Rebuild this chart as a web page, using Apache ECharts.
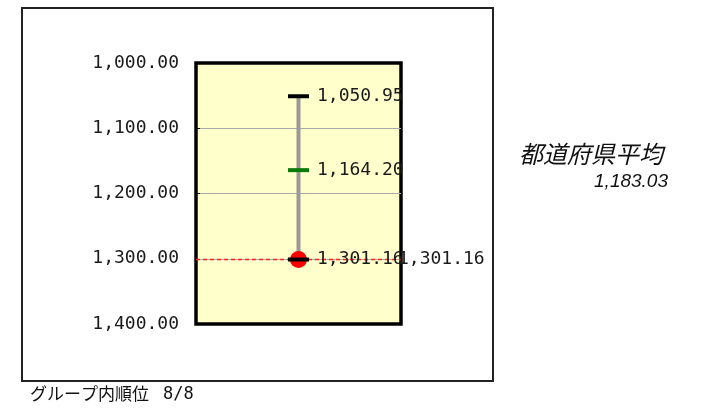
<!DOCTYPE html>
<html>
<head>
<meta charset="utf-8">
<script src="https://cdn.jsdelivr.net/npm/echarts@6/dist/echarts.min.js"></script>
<style>html,body{margin:0;padding:0;background:#fff;}#c{width:709px;height:411px;}</style>
</head>
<body>
<div id="c"></div>
<script>
// ---- data ----
const yTicks = [1000, 1100, 1200, 1300, 1400];
const groupBest = 1050.95;     // top of range (black)
const groupMid = 1164.20;      // group average (green)
const groupWorst = 1301.16;    // bottom of range (black)
const selfValue = 1301.16;     // this municipality (red)
const prefAverageLabel = '都道府県平均';
const prefAverage = 1183.03;
const rankLabel = 'グループ内順位';
const rankText = '8/8';

function fmt(v) {
  return v.toLocaleString('en-US', {minimumFractionDigits: 2, maximumFractionDigits: 2});
}

const monoFont = 'DejaVu Sans Mono';
const chart = echarts.init(document.getElementById('c'), null, {renderer: 'canvas'});

const option = {
  animation: false,
  backgroundColor: '#fff',
  color: ['#ff0000'],
  grid: {
    left: 196, right: 308, top: 63, bottom: 87,
    show: true, backgroundColor: '#ffffcc', borderColor: '#000', borderWidth: 3.5,
    containLabel: false
  },
  xAxis: {
    type: 'value', min: 0, max: 2,
    show: false
  },
  yAxis: {
    type: 'value', inverse: true, min: yTicks[0], max: yTicks[yTicks.length - 1], interval: 100,
    axisLine: {show: false},
    axisTick: {show: true, inside: true, length: 4, lineStyle: {color: '#000'}},
    splitLine: {show: true, showMinLine: false, showMaxLine: false, lineStyle: {color: '#aaaaaa', width: 1}},
    axisLabel: {
      margin: 17, fontFamily: monoFont, fontSize: 18, color: '#1a1a1a',
      formatter: v => fmt(v)
    }
  },
  series: [
    {
      type: 'line', z: 2,
      data: [[1, groupBest], [1, groupWorst]],
      symbol: 'none',
      lineStyle: {color: '#999999', width: 4, opacity: 1}
    },
    {
      type: 'line', z: 5,
      data: [[0, selfValue], [2, selfValue]],
      symbol: 'none',
      itemStyle: {color: '#ff0000'},
      lineStyle: {color: '#ff2020', type: [4, 3], width: 1.5, opacity: 1},
      endLabel: {
        show: true, distance: -3,
        fontFamily: monoFont, fontSize: 18, color: '#1a1a1a',
        formatter: () => fmt(selfValue)
      }
    },
    {
      type: 'scatter', z: 6,
      data: [[1, selfValue]],
      symbol: 'circle', symbolSize: 17,
      itemStyle: {color: '#ff0000', opacity: 1}
    },
    {
      type: 'scatter', z: 7,
      data: [[1, groupBest], [1, groupWorst]],
      symbol: 'rect', symbolSize: [21, 4],
      itemStyle: {color: '#000', opacity: 1},
      label: {
        show: true, position: 'right', distance: 8,
        fontFamily: monoFont, fontSize: 18, color: '#1a1a1a', opacity: 1,
        formatter: p => fmt(p.value[1])
      }
    },
    {
      type: 'scatter', z: 7,
      data: [[1, groupMid]],
      symbol: 'rect', symbolSize: [21, 4],
      itemStyle: {color: '#0a7a0a', opacity: 1},
      label: {
        show: true, position: 'right', distance: 8,
        fontFamily: monoFont, fontSize: 18, color: '#1a1a1a', opacity: 1,
        formatter: p => fmt(p.value[1])
      }
    }
  ],
  graphic: [
    {
      type: 'rect', z: -10, silent: true,
      shape: {x: 22, y: 8, width: 471, height: 373},
      style: {fill: 'none', stroke: '#222', lineWidth: 2}
    },
    {
      type: 'text', left: 519, top: 142,
      style: {text: prefAverageLabel, font: 'italic 24px "Noto Sans CJK JP"', fill: '#111'}
    },
    {
      type: 'text', right: 709 - 668, top: 172,
      style: {text: fmt(prefAverage), font: 'italic 19px "Liberation Sans"', fill: '#111', textAlign: 'right'}
    },
    {
      type: 'text', left: 30, top: 385,
      style: {text: rankLabel, font: '17px "Noto Sans CJK JP"', fill: '#111'}
    },
    {
      type: 'text', left: 163, top: 386,
      style: {text: rankText, font: '17px "DejaVu Sans Mono"', fill: '#111'}
    }
  ]
};
chart.setOption(option);
</script>
</body>
</html>
